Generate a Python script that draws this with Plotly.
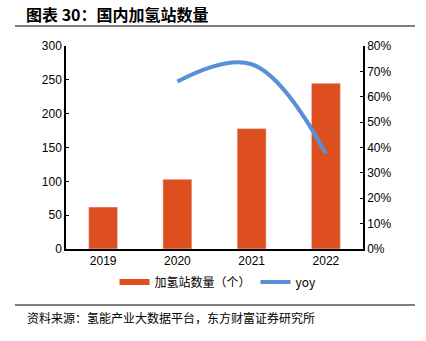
import plotly.graph_objects as go

years = ["2019", "2020", "2021", "2022"]
stations = [62, 103, 178, 245]
yoy_years = ["2020", "2021", "2022"]
yoy = [0.66, 0.728, 0.376]

ORANGE = "#DD4F1E"
BLUE = "#5890D8"
CJK = "Noto Sans CJK SC"
LAT = "Liberation Sans, Arial"

fig = go.Figure()
fig.add_trace(go.Bar(x=years, y=stations, marker_color=ORANGE, showlegend=False,
                     name="加氢站数量（个）"))
fig.add_trace(go.Scatter(x=yoy_years, y=yoy, yaxis="y2", mode="lines",
                         line=dict(color=BLUE, width=4, shape="spline", smoothing=1.1),
                         showlegend=False, name="yoy"))
# legend entries
fig.add_trace(go.Scatter(x=[None], y=[None], mode="lines", name="加氢站数量（个）",
                         line=dict(color=ORANGE, width=6)))
fig.add_trace(go.Scatter(x=[None], y=[None], mode="lines", name="yoy", yaxis="y2",
                         line=dict(color=BLUE, width=4)))

W, H = 426, 341
L, R, T, B = 66, 63, 46, 92
pw, ph = W - L - R, H - T - B

def px(x):
    return (x - L) / pw

def py(y):
    return (H - B - y) / ph

fig.update_layout(
    width=W, height=H,
    margin=dict(l=L, r=R, t=T, b=B),
    paper_bgcolor="white", plot_bgcolor="white",
    bargap=0.61,
    font=dict(family=LAT, size=12, color="#000"),
    xaxis=dict(type="category", showline=True, linecolor="#000", linewidth=1.5,
               ticks="", tickfont=dict(size=12, family=LAT), showgrid=False),
    yaxis=dict(range=[0, 300], dtick=50, showline=True, linecolor="#000", linewidth=1.5,
               ticks="inside", ticklen=3, tickcolor="#000", showgrid=False, zeroline=False,
               tickfont=dict(size=12, family=LAT)),
    yaxis2=dict(range=[0, 0.8], dtick=0.1, tickformat=".0%", overlaying="y", side="right",
                showline=True, linecolor="#000", linewidth=1.5, ticks="inside", ticklen=3,
                tickcolor="#000", showgrid=False, zeroline=False,
                tickfont=dict(size=12, family=LAT)),
    legend=dict(orientation="h", x=px(218), xanchor="center", y=py(282), yanchor="middle",
                font=dict(size=12, family=CJK), itemwidth=30, tracegroupgap=0,
                bgcolor="rgba(0,0,0,0)"),
    shapes=[
        dict(type="line", xref="paper", yref="paper", x0=px(15), x1=px(415),
             y0=py(26), y1=py(26), line=dict(color="#000", width=1.2)),
        dict(type="line", xref="paper", yref="paper", x0=px(15), x1=px(415),
             y0=py(305), y1=py(305), line=dict(color="#000", width=1.2)),
    ],
    annotations=[
        dict(text="<b>图表 30：国内加氢站数量</b>", xref="paper", yref="paper",
             x=px(24), y=py(14), xanchor="left", yanchor="middle", showarrow=False,
             font=dict(size=16, family=CJK, color="#000")),
        dict(text="资料来源：氢能产业大数据平台，东方财富证券研究所", xref="paper", yref="paper",
             x=px(25), y=py(317), xanchor="left", yanchor="middle", showarrow=False,
             font=dict(size=12, family=CJK, color="#000")),
    ],
)

fig.write_html("out.html")
